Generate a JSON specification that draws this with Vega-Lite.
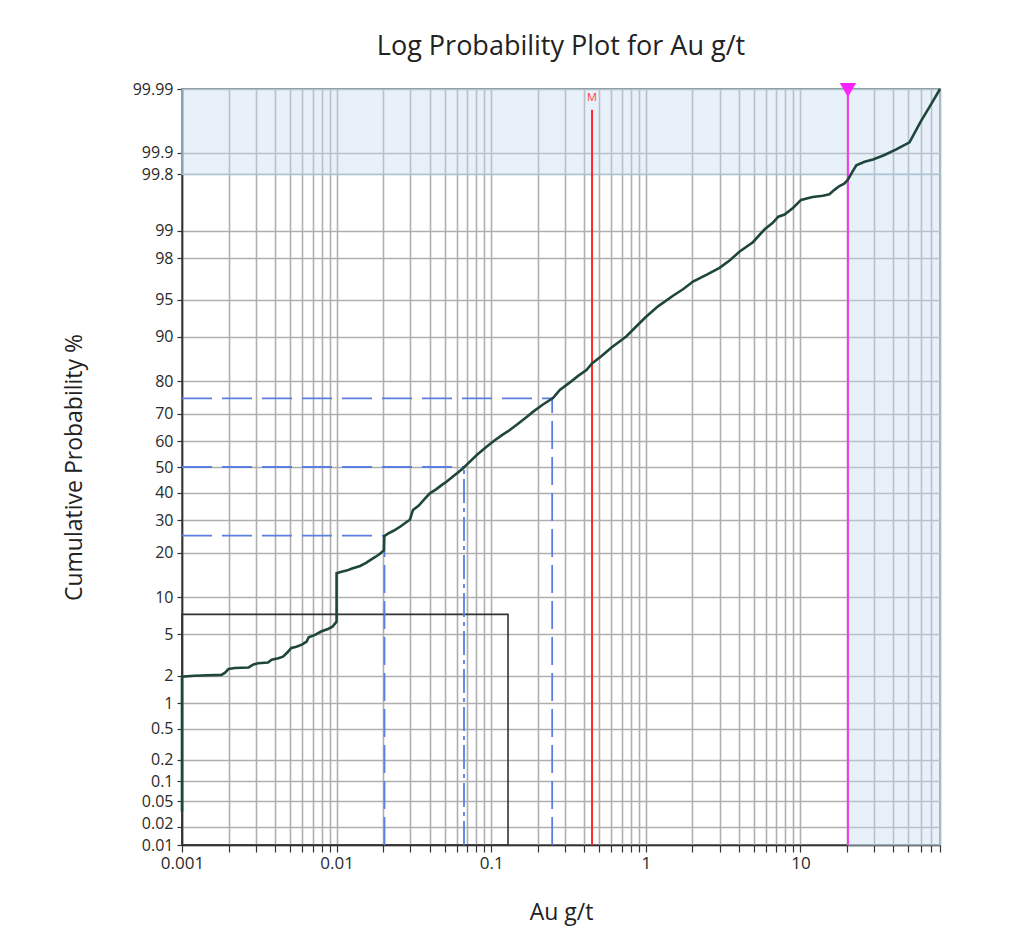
{
  "$schema": "https://vega.github.io/schema/vega-lite/v6.json",
  "width": 758,
  "height": 756,
  "autosize": {"type": "none"},
  "padding": {"left": 182, "top": 89, "right": 69, "bottom": 93},
  "background": "white",
  "config": {"font": "Open Sans", "view": {"stroke": "#333333", "strokeWidth": 1.5}},
  "title": {"text": "Log Probability Plot for Au g/t", "fontSize": 27, "fontWeight": "normal", "color": "#222222", "offset": 20, "anchor": "middle", "frame": "group"},
  "datasets": {
    "curve": [
      {"au": 0.001, "p": 0.035}, {"au": 0.001, "p": 1.95}, {"au": 0.0012, "p": 2.0}, {"au": 0.0018, "p": 2.04},
      {"au": 0.0019, "p": 2.15}, {"au": 0.002, "p": 2.35}, {"au": 0.0022, "p": 2.4}, {"au": 0.0027, "p": 2.43},
      {"au": 0.0029, "p": 2.6}, {"au": 0.0031, "p": 2.68}, {"au": 0.0036, "p": 2.72}, {"au": 0.0038, "p": 2.9},
      {"au": 0.0042, "p": 3.0}, {"au": 0.0045, "p": 3.1}, {"au": 0.0048, "p": 3.4}, {"au": 0.0051, "p": 3.75},
      {"au": 0.0055, "p": 3.85}, {"au": 0.006, "p": 4.05}, {"au": 0.0064, "p": 4.3}, {"au": 0.0066, "p": 4.7},
      {"au": 0.0072, "p": 4.9}, {"au": 0.008, "p": 5.3}, {"au": 0.0088, "p": 5.55}, {"au": 0.0094, "p": 5.8},
      {"au": 0.0097, "p": 6.1}, {"au": 0.01, "p": 6.4}, {"au": 0.01, "p": 14.8}, {"au": 0.0106, "p": 15.1},
      {"au": 0.0116, "p": 15.4}, {"au": 0.0126, "p": 15.9}, {"au": 0.0142, "p": 16.5}, {"au": 0.0155, "p": 17.3},
      {"au": 0.0165, "p": 18.0}, {"au": 0.0178, "p": 18.8}, {"au": 0.019, "p": 19.6}, {"au": 0.0202, "p": 20.6},
      {"au": 0.0203, "p": 24.8}, {"au": 0.0215, "p": 25.6}, {"au": 0.0235, "p": 26.6}, {"au": 0.026, "p": 28.0},
      {"au": 0.0285, "p": 29.5}, {"au": 0.0298, "p": 30.2}, {"au": 0.0305, "p": 32.0}, {"au": 0.0312, "p": 33.6},
      {"au": 0.034, "p": 35.2}, {"au": 0.037, "p": 37.6}, {"au": 0.0401, "p": 39.8}, {"au": 0.044, "p": 41.3},
      {"au": 0.048, "p": 43.0}, {"au": 0.0514, "p": 44.2}, {"au": 0.056, "p": 46.1}, {"au": 0.061, "p": 47.8},
      {"au": 0.0658, "p": 49.5}, {"au": 0.072, "p": 51.8}, {"au": 0.081, "p": 54.8}, {"au": 0.0933, "p": 57.9},
      {"au": 0.105, "p": 60.3}, {"au": 0.118, "p": 62.4}, {"au": 0.132, "p": 64.2}, {"au": 0.15, "p": 66.6},
      {"au": 0.168, "p": 68.7}, {"au": 0.187, "p": 70.7}, {"au": 0.215, "p": 73.0}, {"au": 0.251, "p": 75.1},
      {"au": 0.278, "p": 77.6}, {"au": 0.32, "p": 79.6}, {"au": 0.365, "p": 81.5}, {"au": 0.413, "p": 83.0},
      {"au": 0.449, "p": 84.6}, {"au": 0.52, "p": 86.3}, {"au": 0.6, "p": 88.0}, {"au": 0.68, "p": 89.2},
      {"au": 0.75, "p": 90.1}, {"au": 0.87, "p": 91.7}, {"au": 1.0, "p": 93.0}, {"au": 1.2, "p": 94.3},
      {"au": 1.5, "p": 95.4}, {"au": 1.75, "p": 96.0}, {"au": 2.02, "p": 96.6}, {"au": 2.5, "p": 97.1},
      {"au": 3.0, "p": 97.5}, {"au": 3.5, "p": 97.9}, {"au": 4.05, "p": 98.3}, {"au": 4.93, "p": 98.65},
      {"au": 5.9, "p": 99.04}, {"au": 6.6, "p": 99.18}, {"au": 7.2, "p": 99.31}, {"au": 7.9, "p": 99.35},
      {"au": 8.95, "p": 99.46}, {"au": 10.1, "p": 99.57}, {"au": 12.0, "p": 99.605}, {"au": 14.0, "p": 99.62},
      {"au": 15.4, "p": 99.635}, {"au": 16.6, "p": 99.68}, {"au": 17.9, "p": 99.715}, {"au": 19.2, "p": 99.735},
      {"au": 20.3, "p": 99.765}, {"au": 21.5, "p": 99.81}, {"au": 23.0, "p": 99.85}, {"au": 26.0, "p": 99.866},
      {"au": 29.5, "p": 99.876}, {"au": 35.0, "p": 99.893}, {"au": 41.7, "p": 99.911}, {"au": 50.8, "p": 99.93},
      {"au": 60.0, "p": 99.966}, {"au": 70.0, "p": 99.982}, {"au": 80.0, "p": 99.99}
    ],
    "bands": [
      {"band": "top", "au": 0.001, "au2": 80, "p": 99.8, "p2": 99.99},
      {"band": "right", "au": 20.3, "au2": 80, "p": 0.01, "p2": 99.8}
    ],
    "box": [{"au": 0.001, "au2": 0.1285, "p": 0.01, "p2": 7.36}],
    "hguides": [
      {"q": "P25", "au": 0.001, "au2": 0.0204, "p": 25},
      {"q": "P50", "au": 0.001, "au2": 0.0667, "p": 50},
      {"q": "P75", "au": 0.001, "au2": 0.248, "p": 75}
    ],
    "vguides": [
      {"q": "P25", "au": 0.0204, "p": 0.01, "p2": 25},
      {"q": "P50", "au": 0.0667, "p": 0.01, "p2": 50},
      {"q": "P75", "au": 0.248, "p": 0.01, "p2": 75}
    ],
    "mean": [{"au": 0.449, "p": 0.01, "p2": 99.978}],
    "meanLabel": [{"au": 0.449, "p": 99.986, "label": "M"}],
    "cutoff": [{"au": 20.3, "p": 0.01, "p2": 99.99}],
    "marker": [{"au": 20.3, "p": 99.99}]
  },
  "encoding": {
    "x": {
      "field": "au", "type": "quantitative",
      "scale": {"type": "log", "domain": [0.001, 80], "nice": false},
      "axis": {
        "title": "Au g/t",
        "values": [0.001,0.002,0.003,0.004,0.005,0.006,0.007,0.008,0.009,0.01,0.02,0.03,0.04,0.05,0.06,0.07,0.08,0.09,0.1,0.2,0.3,0.4,0.5,0.6,0.7,0.8,0.9,1,2,3,4,5,6,7,8,9,10,20,30,40,50,60,70,80],
        "labelExpr": "indexof([0.001,0.01,0.1,1,10], datum.value) >= 0 ? format(datum.value, '~g') : ''",
        "grid": true, "gridColor": "#afafaf", "gridWidth": 1.6,
        "tickColor": "#333333", "tickSize": 7, "tickWidth": 1.2,
        "domainColor": "#333333", "domainWidth": 1.6,
        "labelFontSize": 17, "labelColor": "#2a2a2a", "labelPadding": 3,
        "labelOverlap": false, "labelFlush": false, "labelBound": false,
        "titleFontSize": 23, "titleFontWeight": "normal", "titleColor": "#222222", "titlePadding": 30
      }
    },
    "y": {
      "field": "z", "type": "quantitative",
      "scale": {"domain": [-3.719016, 3.719016], "nice": false, "zero": false},
      "axis": {
        "title": "Cumulative Probability %",
        "values": [-3.719016,-3.540084,-3.290527,-3.090232,-2.878162,-2.575829,-2.326348,-2.053749,-1.644854,-1.281552,-0.841621,-0.524401,-0.253347,0,0.253347,0.524401,0.841621,1.281552,1.644854,2.053749,2.326348,2.878162,3.090232,3.719016],
        "labelExpr": "format(cumulativeNormal(datum.value) * 100, '.4~r')",
        "labelOffset": {"condition": [{"test": "datum.value > -3.6 && datum.value < -3.5", "value": -3}], "value": 0},
        "grid": true, "gridColor": "#afafaf", "gridWidth": 1.6,
        "tickColor": "#333333", "tickSize": 5, "tickWidth": 1.2,
        "domainColor": "#333333", "domainWidth": 1.6,
        "labelFontSize": 16, "labelColor": "#2a2a2a", "labelPadding": 4,
        "labelOverlap": false, "labelFlush": false, "labelBound": false,
        "titleFontSize": 23, "titleFontWeight": "normal", "titleColor": "#222222", "titlePadding": 46
      }
    }
  },
  "layer": [
    {
      "data": {"name": "bands"},
      "transform": [
        {"calculate": "quantileNormal(datum.p / 100)", "as": "z"},
        {"calculate": "quantileNormal(datum.p2 / 100)", "as": "z2"}
      ],
      "mark": {"type": "rect", "fill": "#c5dcef", "fillOpacity": 0.4, "stroke": "#a9c6d2", "strokeWidth": 1.2},
      "encoding": {"x2": {"field": "au2"}, "y2": {"field": "z2"}}
    },
    {
      "data": {"name": "box"},
      "transform": [
        {"calculate": "quantileNormal(datum.p / 100)", "as": "z"},
        {"calculate": "quantileNormal(datum.p2 / 100)", "as": "z2"}
      ],
      "mark": {"type": "rect", "fill": null, "fillOpacity": 0, "stroke": "#333333", "strokeWidth": 1.6},
      "encoding": {"x2": {"field": "au2"}, "y2": {"field": "z2"}}
    },
    {
      "data": {"name": "hguides"},
      "transform": [{"calculate": "quantileNormal(datum.p / 100)", "as": "z"}],
      "mark": {"type": "rule", "color": "#5a7fe0", "strokeWidth": 1.8, "strokeDash": [30, 10]},
      "encoding": {"x2": {"field": "au2"}}
    },
    {
      "data": {"name": "vguides"},
      "transform": [
        {"filter": "datum.q != 'P50'"},
        {"calculate": "quantileNormal(datum.p / 100)", "as": "z"},
        {"calculate": "quantileNormal(datum.p2 / 100)", "as": "z2"}
      ],
      "mark": {"type": "rule", "color": "#5a7fe0", "strokeWidth": 1.8, "strokeDash": [28, 8]},
      "encoding": {"y2": {"field": "z2"}}
    },
    {
      "data": {"name": "vguides"},
      "transform": [
        {"filter": "datum.q == 'P50'"},
        {"calculate": "quantileNormal(datum.p / 100)", "as": "z"},
        {"calculate": "quantileNormal(datum.p2 / 100)", "as": "z2"}
      ],
      "mark": {"type": "rule", "color": "#5a7fe0", "strokeWidth": 1.8, "strokeDash": [24, 5, 4, 5]},
      "encoding": {"y2": {"field": "z2"}}
    },
    {
      "data": {"name": "mean"},
      "transform": [
        {"calculate": "quantileNormal(datum.p / 100)", "as": "z"},
        {"calculate": "quantileNormal(datum.p2 / 100)", "as": "z2"}
      ],
      "mark": {"type": "rule", "color": "#ff2a2a", "strokeWidth": 2},
      "encoding": {"y2": {"field": "z2"}}
    },
    {
      "data": {"name": "meanLabel"},
      "transform": [{"calculate": "quantileNormal(datum.p / 100)", "as": "z"}],
      "mark": {"type": "text", "color": "#ff4040", "fontSize": 11, "align": "center", "baseline": "middle"},
      "encoding": {"text": {"field": "label"}}
    },
    {
      "data": {"name": "cutoff"},
      "transform": [
        {"calculate": "quantileNormal(datum.p / 100)", "as": "z"},
        {"calculate": "quantileNormal(datum.p2 / 100)", "as": "z2"}
      ],
      "mark": {"type": "rule", "color": "#f23cf0", "strokeWidth": 2},
      "encoding": {"y2": {"field": "z2"}}
    },
    {
      "data": {"name": "curve"},
      "transform": [{"calculate": "quantileNormal(datum.p / 100)", "as": "z"}],
      "mark": {"type": "line", "color": "#1f463c", "strokeWidth": 2.6, "interpolate": "linear"},
      "encoding": {"order": {"field": "p", "type": "quantitative"}}
    },
    {
      "data": {"name": "marker"},
      "transform": [{"calculate": "quantileNormal(datum.p / 100)", "as": "z"}],
      "mark": {"type": "point", "shape": "triangle-down", "filled": true, "size": 270, "color": "#ff22ff", "opacity": 1, "yOffset": 1, "clip": false},
      "encoding": {}
    }
  ]
}
